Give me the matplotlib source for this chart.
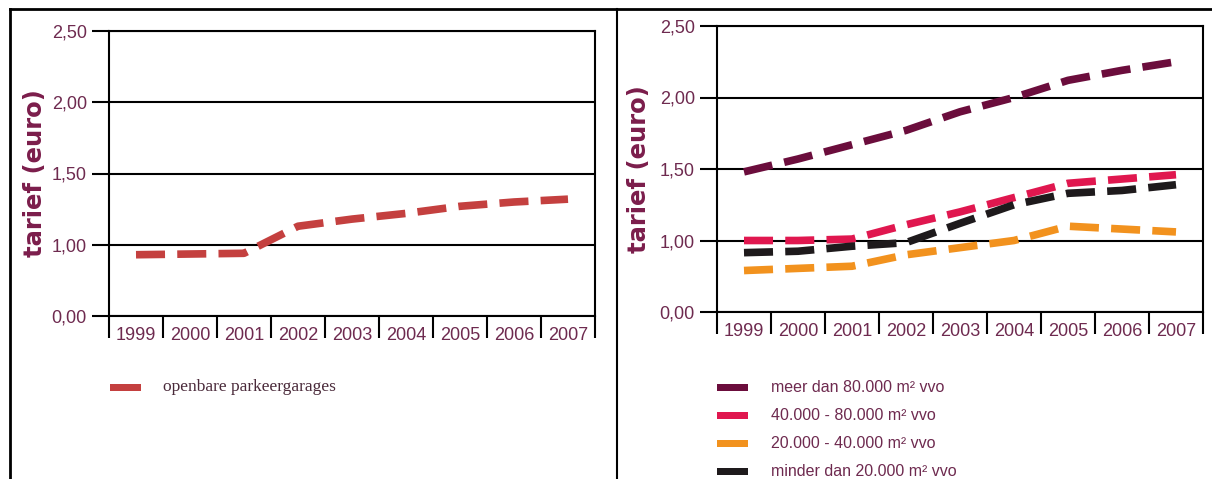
import matplotlib
matplotlib.use("Agg")
import matplotlib.pyplot as plt
import numpy as np
from matplotlib.lines import Line2D
from matplotlib.patches import Rectangle

# years on the x axis
years = ["1999", "2000", "2001", "2002", "2003", "2004", "2005", "2006", "2007"]

# left chart: public parking garages
openbaar = [0.86, 0.87, 0.88, 1.13, 1.18, 1.22, 1.27, 1.30, 1.32]

# right chart: by shop floor area
meer_80 = [1.48, 1.57, 1.67, 1.77, 1.90, 2.00, 2.12, 2.19, 2.25]
van_40_80 = [1.00, 1.00, 1.01, 1.11, 1.20, 1.30, 1.40, 1.43, 1.46]
van_20_40 = [0.58, 0.61, 0.64, 0.80, 0.90, 1.00, 1.10, 1.08, 1.06]
minder_20 = [0.83, 0.85, 0.92, 0.97, 1.12, 1.25, 1.33, 1.35, 1.39]

yticks = [0.0, 1.0, 1.5, 2.0, 2.5]
ytick_labels = ["0,00", "1,00", "1,50", "2,00", "2,50"]

left_labels = ["openbare parkeergarages"]
right_labels = ["meer dan 80.000 m² vvo", "40.000 - 80.000 m² vvo",
                "20.000 - 40.000 m² vvo", "minder dan 20.000 m² vvo"]

TXT = "#6e2a4f"
YLAB = "#7b1d4b"
FONT = ["Liberation Sans", "DejaVu Sans"]

W, H = 1212, 479


def fwd(y):
    y = np.asarray(y, dtype=float)
    return np.where(y <= 1, y, 2 * y - 1)


def inv(u):
    u = np.asarray(u, dtype=float)
    return np.where(u <= 1, u, (u + 1) / 2)


def setup(ax, label_x):
    ax.set_yscale("function", functions=(fwd, inv))
    ax.set_ylim(0, 2.5)
    ax.set_xlim(-0.5, len(years) - 0.5)
    for v in yticks:
        ax.axhline(v, color="black", lw=1.5, zorder=1)
    for s in ax.spines.values():
        s.set_linewidth(1.5)
    ax.set_yticks(yticks)
    ax.set_yticklabels(ytick_labels, color=TXT, fontsize=13, family=FONT)
    ax.tick_params(axis="y", length=12, width=1.5, pad=4)
    x = np.arange(len(years))
    ax.set_xticks(x)
    ax.set_xticklabels(years, color=TXT, fontsize=13, family=FONT)
    ax.tick_params(axis="x", which="major", length=0, pad=8)
    ax.set_xticks(np.arange(len(years) + 1) - 0.5, minor=True)
    ax.tick_params(axis="x", which="minor", length=16, width=1.5)
    ax.set_ylabel("tarief (euro)", color=YLAB, fontsize=17.5, fontweight="bold")
    ax.yaxis.set_label_coords(label_x, 0.5)


def dashed(ax, vals, color):
    line, = ax.plot(np.arange(len(years)), vals, color=color, lw=5.5,
                    solid_capstyle="butt", zorder=3)
    line.set_dashes((3.8, 1.6))
    line.set_dash_capstyle("butt")
    return line


def legend_key(x, y, color):
    # solid key bar, 31 px wide and 7 px tall
    return Rectangle((x, y - 3.5 / H), 31 / W, 7 / H, color=color, lw=0,
                     transform=fig.transFigure)


fig = plt.figure(figsize=(W / 100, H / 100), dpi=100)

ax1 = fig.add_axes([109 / W, 1 - 316 / H, 486 / W, 285 / H])
setup(ax1, -0.127)
dashed(ax1, openbaar, "#c4403f")

ax2 = fig.add_axes([717 / W, 1 - 312 / H, 486 / W, 286 / H])
setup(ax2, -0.135)
right_series = [meer_80, van_40_80, van_20_40, minder_20]
right_colors = ["#6b0d3c", "#e0174f", "#f2921e", "#1e1a1c"]
for vals, c in zip(right_series, right_colors):
    dashed(ax2, vals, c)

# outer frame and divider
fig.add_artist(Line2D([10 / W, 10 / W], [0, 1 - 9 / H], color="black", lw=2))
fig.add_artist(Line2D([10 / W, 1], [1 - 9 / H, 1 - 9 / H], color="black", lw=2))
fig.add_artist(Line2D([617 / W, 617 / W], [0, 1 - 9 / H], color="black", lw=1.5))

# legends
for i, lab in enumerate(left_labels):
    y = 1 - (387 + 28 * i) / H
    fig.add_artist(legend_key(110 / W, y, "#c4403f"))
    fig.text(163 / W, y, lab, color="#4a2a3a", fontsize=12.5,
             family=["Liberation Serif", "DejaVu Serif"], va="center")

for i, (lab, c) in enumerate(zip(right_labels, right_colors)):
    y = 1 - (387 + 28 * i) / H
    fig.add_artist(legend_key(717 / W, y, c))
    fig.text(771 / W, y, lab, color=TXT, fontsize=11.5, family=FONT, va="center")

fig.savefig("out.png", dpi=100, facecolor="white")
